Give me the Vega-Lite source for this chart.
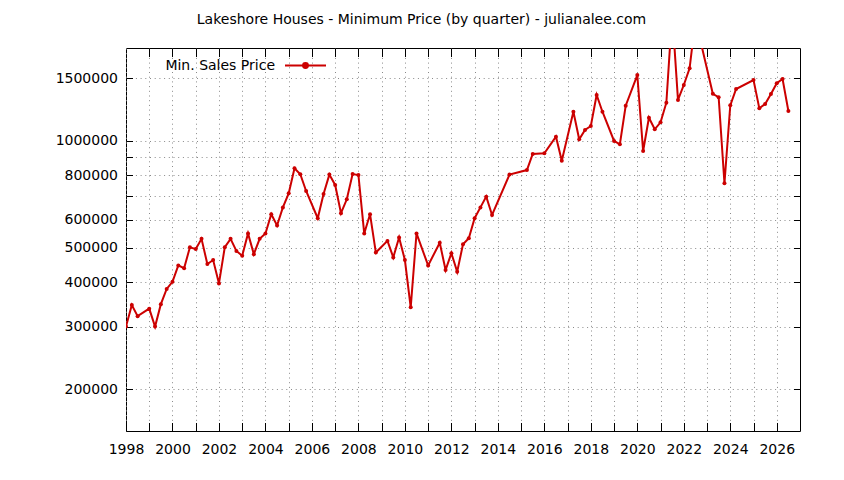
{
  "$schema": "https://vega.github.io/schema/vega-lite/v6.json",
  "autosize": "none",
  "width": 674,
  "height": 383,
  "padding": {"left": 126, "top": 48, "right": 44, "bottom": 49},
  "background": "white",
  "title": {
    "text": "Lakeshore Houses - Minimum Price (by quarter) - julianalee.com",
    "font": "DejaVu Sans",
    "fontSize": 14,
    "fontWeight": "normal",
    "color": "black",
    "frame": "group",
    "anchor": "middle",
    "baseline": "alphabetic",
    "offset": 6,
    "dx": -41.5
  },
  "config": {
    "view": {"stroke": "black", "strokeWidth": 1},
    "axis": {
      "labelFont": "DejaVu Sans",
      "labelFontSize": 14,
      "labelColor": "black",
      "labelOverlap": false,
      "labelFlush": false,
      "domain": false,
      "tickColor": "black",
      "gridColor": "#8a8a8a",
      "gridDash": [1, 3.7],
      "gridWidth": 1,
      "title": null
    },
    "legend": {
      "labelFont": "DejaVu Sans",
      "labelFontSize": 14,
      "labelColor": "black"
    }
  },
  "data": {
    "values": [
      {"year": 1998.0, "price": 300000},
      {"year": 1998.25, "price": 345000},
      {"year": 1998.5, "price": 321000},
      {"year": 1999.0, "price": 337000},
      {"year": 1999.25, "price": 300000},
      {"year": 1999.5, "price": 347000},
      {"year": 1999.75, "price": 383000},
      {"year": 2000.0, "price": 401000},
      {"year": 2000.25, "price": 446000},
      {"year": 2000.5, "price": 438000},
      {"year": 2000.75, "price": 502000},
      {"year": 2001.0, "price": 496000},
      {"year": 2001.25, "price": 530000},
      {"year": 2001.5, "price": 450000},
      {"year": 2001.75, "price": 462000},
      {"year": 2002.0, "price": 397000},
      {"year": 2002.25, "price": 502000},
      {"year": 2002.5, "price": 530000},
      {"year": 2002.75, "price": 490000},
      {"year": 2003.0, "price": 475000},
      {"year": 2003.25, "price": 549000},
      {"year": 2003.5, "price": 480000},
      {"year": 2003.75, "price": 530000},
      {"year": 2004.0, "price": 549000},
      {"year": 2004.25, "price": 622000},
      {"year": 2004.5, "price": 578000},
      {"year": 2004.75, "price": 650000},
      {"year": 2005.0, "price": 712000},
      {"year": 2005.25, "price": 838000},
      {"year": 2005.5, "price": 806000},
      {"year": 2005.75, "price": 723000},
      {"year": 2006.25, "price": 606000},
      {"year": 2006.5, "price": 709000},
      {"year": 2006.75, "price": 804000},
      {"year": 2007.0, "price": 752000},
      {"year": 2007.25, "price": 626000},
      {"year": 2007.5, "price": 685000},
      {"year": 2007.75, "price": 807000},
      {"year": 2008.0, "price": 802000},
      {"year": 2008.25, "price": 549000},
      {"year": 2008.5, "price": 622000},
      {"year": 2008.75, "price": 485000},
      {"year": 2009.25, "price": 523000},
      {"year": 2009.5, "price": 470000},
      {"year": 2009.75, "price": 535000},
      {"year": 2010.0, "price": 462000},
      {"year": 2010.25, "price": 340000},
      {"year": 2010.5, "price": 549000},
      {"year": 2011.0, "price": 446000},
      {"year": 2011.5, "price": 517000},
      {"year": 2011.75, "price": 433000},
      {"year": 2012.0, "price": 483000},
      {"year": 2012.25, "price": 428000},
      {"year": 2012.5, "price": 512000},
      {"year": 2012.75, "price": 532000},
      {"year": 2013.0, "price": 606000},
      {"year": 2013.25, "price": 650000},
      {"year": 2013.5, "price": 697000},
      {"year": 2013.75, "price": 619000},
      {"year": 2014.5, "price": 804000},
      {"year": 2015.25, "price": 828000},
      {"year": 2015.5, "price": 919000},
      {"year": 2016.0, "price": 923000},
      {"year": 2016.5, "price": 1028000},
      {"year": 2016.75, "price": 880000},
      {"year": 2017.25, "price": 1209000},
      {"year": 2017.5, "price": 1011000},
      {"year": 2017.75, "price": 1074000},
      {"year": 2018.0, "price": 1102000},
      {"year": 2018.25, "price": 1348000},
      {"year": 2018.5, "price": 1209000},
      {"year": 2019.0, "price": 1000000},
      {"year": 2019.25, "price": 979000},
      {"year": 2019.5, "price": 1257000},
      {"year": 2020.0, "price": 1534000},
      {"year": 2020.25, "price": 937000},
      {"year": 2020.5, "price": 1163000},
      {"year": 2020.75, "price": 1079000},
      {"year": 2021.0, "price": 1129000},
      {"year": 2021.25, "price": 1282000},
      {"year": 2021.5, "price": 2300000},
      {"year": 2021.75, "price": 1305000},
      {"year": 2022.0, "price": 1438000},
      {"year": 2022.25, "price": 1602000},
      {"year": 2022.5, "price": 2200000},
      {"year": 2023.25, "price": 1358000},
      {"year": 2023.5, "price": 1328000},
      {"year": 2023.75, "price": 760000},
      {"year": 2024.0, "price": 1260000},
      {"year": 2024.25, "price": 1401000},
      {"year": 2025.0, "price": 1485000},
      {"year": 2025.25, "price": 1236000},
      {"year": 2025.5, "price": 1271000},
      {"year": 2025.75, "price": 1356000},
      {"year": 2026.0, "price": 1454000},
      {"year": 2026.25, "price": 1495000},
      {"year": 2026.5, "price": 1215000}
    ]
  },
  "transform": [{"calculate": "'Min. Sales Price'", "as": "series"}],
  "layer": [
    {
      "mark": {"type": "line", "clip": true, "strokeWidth": 2},
      "encoding": {
        "x": {
          "field": "year",
          "type": "quantitative",
          "scale": {"domain": [1998, 2027], "nice": false, "zero": false},
          "axis": {
            "orient": "bottom",
            "values": [1998, 1999, 2000, 2001, 2002, 2003, 2004, 2005, 2006, 2007, 2008, 2009, 2010, 2011, 2012, 2013, 2014, 2015, 2016, 2017, 2018, 2019, 2020, 2021, 2022, 2023, 2024, 2025, 2026],
            "labelExpr": "datum.value % 2 == 0 ? format(datum.value, 'd') : ''",
            "tickSize": -8.5,
            "labelPadding": 20,
            "grid": true
          }
        },
        "y": {
          "field": "price",
          "type": "quantitative",
          "scale": {"type": "log", "domain": [152400, 1828000], "nice": false},
          "axis": {
            "orient": "left",
            "values": [200000, 300000, 400000, 500000, 600000, 700000, 800000, 900000, 1000000, 1500000],
            "labelExpr": "datum.value == 700000 || datum.value == 900000 ? '' : format(datum.value, 'd')",
            "tickSize": -6.5,
            "labelPadding": 15,
            "grid": true
          }
        },
        "color": {
          "field": "series",
          "type": "nominal",
          "scale": {"range": ["#cc0000"]},
          "legend": {
            "orient": "none",
            "legendX": 158,
            "legendY": -4,
            "title": null,
            "padding": 0,
            "symbolType": "M-1,0H1M-0.12,0A0.12,0.12,0,1,0,0.12,0A0.12,0.12,0,1,0,-0.12,0",
            "symbolSize": 1681,
            "symbolStrokeWidth": 2,
            "symbolFillColor": "#cc0000",
            "symbolStrokeColor": "#cc0000",
            "labelAlign": "right",
            "labelOffset": -52
          }
        }
      }
    },
    {
      "mark": {"type": "point", "clip": true, "filled": true, "size": 16, "color": "#cc0000", "opacity": 1},
      "encoding": {
        "x": {
          "field": "year",
          "type": "quantitative",
          "axis": {
            "orient": "top",
            "values": [1999, 2000, 2001, 2002, 2003, 2004, 2005, 2006, 2007, 2008, 2009, 2010, 2011, 2012, 2013, 2014, 2015, 2016, 2017, 2018, 2019, 2020, 2021, 2022, 2023, 2024, 2025, 2026],
            "labels": false,
            "grid": false,
            "tickSize": -8.5
          }
        },
        "y": {
          "field": "price",
          "type": "quantitative",
          "axis": {
            "orient": "right",
            "values": [200000, 300000, 400000, 500000, 600000, 700000, 800000, 900000, 1000000, 1500000],
            "labels": false,
            "grid": false,
            "tickSize": -6.5
          }
        }
      }
    }
  ],
  "resolve": {"axis": {"x": "independent", "y": "independent"}}
}
